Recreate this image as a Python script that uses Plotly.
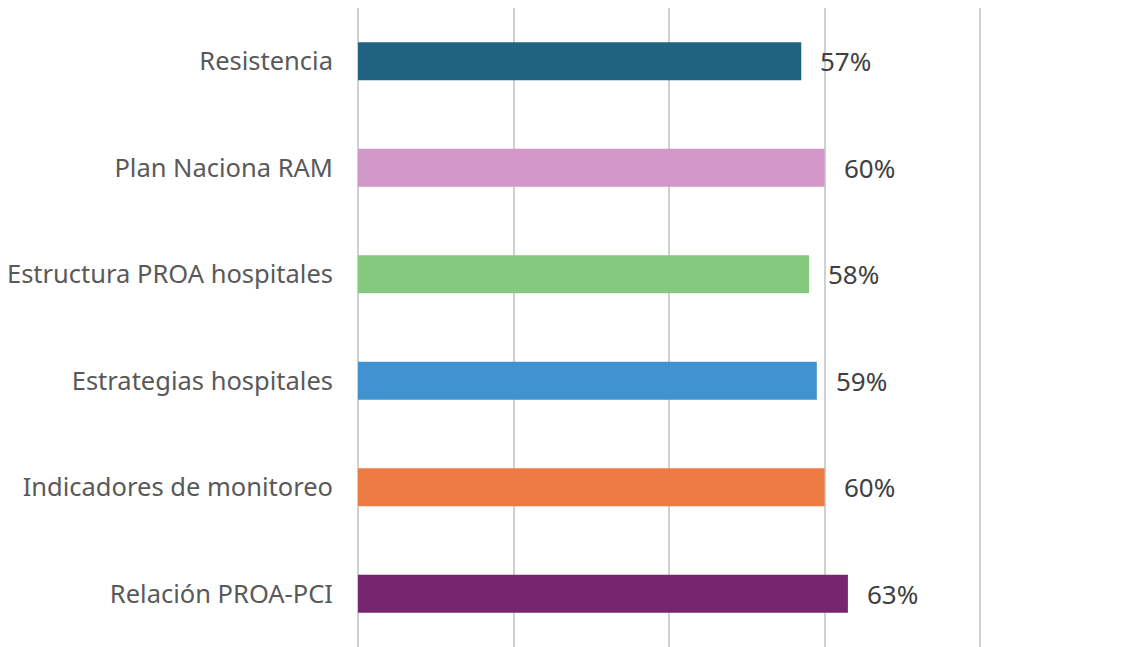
import plotly.graph_objects as go

categories = ["Resistencia", "Plan Naciona RAM", "Estructura PROA hospitales",
              "Estrategias hospitales", "Indicadores de monitoreo", "Relación PROA-PCI"]
values = [0.57, 0.60, 0.58, 0.59, 0.60, 0.63]
value_labels = ["57%", "60%", "58%", "59%", "60%", "63%"]
colors = ["#1F6380", "#D197C8", "#85C97E", "#4192D1", "#EC7A43", "#76266F"]

fig = go.Figure()
fig.add_trace(go.Bar(
    y=categories, x=values, orientation="h",
    marker=dict(color=colors, line=dict(width=0)),
    hoverinfo="skip", showlegend=False,
))

for c, v, t in zip(categories, values, value_labels):
    fig.add_annotation(x=v, y=c, text=t, showarrow=False, xanchor="left",
                       xshift=17, font=dict(size=26, color="#404040", family="Noto Sans"))

fig.update_layout(
    width=1121, height=639,
    margin=dict(l=350, r=110, t=0, b=0),
    paper_bgcolor="white", plot_bgcolor="white",
    bargap=0.644,
    font=dict(family="Noto Sans", size=25.5, color="#595959"),
)
fig.update_xaxes(range=[0, 0.85], tickvals=[0, 0.2, 0.4, 0.6, 0.8], showticklabels=False,
                 showgrid=True, gridcolor="#D0D0D0", gridwidth=2,
                 zeroline=True, zerolinecolor="#D0D0D0", zerolinewidth=2, showline=False)
fig.update_yaxes(autorange="reversed", showgrid=False, ticks="", ticklabelstandoff=24,
                 tickfont=dict(size=25.5, color="#595959", family="Noto Sans"))

fig.write_html("out.html")
